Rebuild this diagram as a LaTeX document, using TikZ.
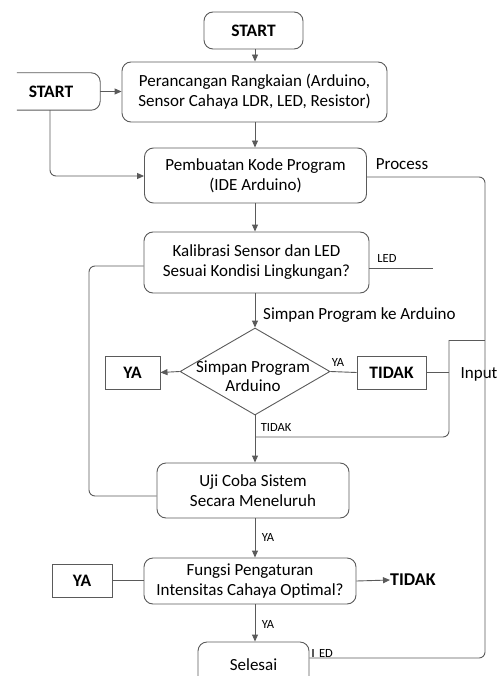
\documentclass[tikz,border=0pt]{standalone}
\usepackage{fontspec}
\setmainfont{Carlito}
\usetikzlibrary{arrows.meta,shapes.geometric,calc}
\definecolor{lc}{HTML}{5A5A5A}
\tikzset{
  line/.style={draw=lc, line width=0.9pt},
  arr/.style={line, -{Triangle[length=7pt,width=6pt]}},
  rbox/.style={line, rounded corners=9pt, align=center, inner sep=0pt, font=\fontsize{17}{20}\selectfont},
  sbox/.style={line, align=center, inner sep=0pt, font=\fontsize{17.5}{20}\selectfont\bfseries},
  lbl/.style={inner sep=0pt, font=\fontsize{17}{20}\selectfont},
  small/.style={inner sep=0pt, font=\fontsize{12.5}{14}\selectfont},
}
\begin{document}
\begin{tikzpicture}[x=1pt,y=-1pt]
\useasboundingbox (0,0) rectangle (502,676);
% nodes
\node[rbox, minimum width=99pt, minimum height=37pt, font=\fontsize{17.5}{20}\selectfont\bfseries] (st) at (253.5,30.5) {START};
\node[rbox, minimum width=265pt, minimum height=60pt] (b1) at (254.5,92) {Perancangan Rangkaian (Arduino,\\Sensor Cahaya LDR, LED, Resistor)};
\node[inner sep=0pt, minimum width=83pt, minimum height=37pt, font=\fontsize{17.5}{20}\selectfont\bfseries] (sl) at (58.5,91.5) {START\hspace*{15pt}};
\draw[line, rounded corners=9pt] (sl.north west) -- (sl.north east) -- (sl.south east) -- (sl.south west);
\node[rbox, minimum width=222pt, minimum height=55pt] (b2) at (255.5,175.5) {Pembuatan Kode Program\\(IDE Arduino)};
\node[rbox, minimum width=225pt, minimum height=61pt] (b3) at (256.5,262.5) {Kalibrasi Sensor dan LED\\Sesuai Kondisi Lingkungan?};
\node[line, diamond, minimum width=150pt, minimum height=87pt, inner sep=0pt] (dm) at (255,371.5) {};
\node[align=center, inner sep=0pt, font=\fontsize{17}{19}\selectfont] (dmt) at (253,376) {Simpan Program\\Arduino};
\node[sbox, minimum width=55pt, minimum height=33pt] (ya1) at (132.5,372.5) {YA};
\node[sbox, minimum width=69pt, minimum height=33pt] (td1) at (391.5,372.5) {TIDAK};
\node[rbox, minimum width=192pt, minimum height=55pt] (uji) at (253,490.5) {Uji Coba Sistem\\Secara Meneluruh};
\node[rbox, minimum width=212pt, minimum height=46pt] (fg) at (250,581) {Fungsi Pengaturan\\Intensitas Cahaya Optimal?};
\node[sbox, minimum width=60pt, minimum height=33pt] (ya2) at (82,580.5) {YA};
\node[inner sep=0pt, anchor=west, font=\fontsize{18}{20}\selectfont\bfseries] (td2) at (390,580) {TIDAK};
\node[rbox, minimum width=111pt, minimum height=46pt] (sel) at (253.5,665) {Selesai};
% labels
\node[lbl] (proc) at (402,164) {Process};
\node[lbl, fill=white, minimum height=32pt, inner xsep=2pt] (inp) at (479,374) {Input};
\node[lbl, anchor=west] (spk) at (263,315) {Simpan Program ke Arduino};
\node[small] (led) at (387,258) {LED};
\node[small] (yad) at (338,362) {YA};
\node[small] (tdd) at (276,427) {TIDAK};
\node[small] (yau) at (268,537) {YA};
\node[small] (yaf) at (268,624) {YA};
\node[small] (ed) at (326,653) {ED};
\draw[line, line width=1.2pt] (ed.west) ++(-6,-4) -- ++(0,8);
% coordinates
\coordinate (ax) at (255,0);
\coordinate (rc) at (485,177);
\coordinate (rb) at (485,658);
\coordinate (ll) at (89,496);
\coordinate (iv) at (449,340);
\coordinate (ib) at (449,437);
\coordinate (sv) at (50,176);
% connectors
\draw[arr] (st.south -| ax) -- (b1.north -| ax);
\draw[arr] (sl.east) -- (b1.west |- sl.east);
\draw[arr] (b1.south -| ax) -- (b2.north -| ax);
\draw[arr, rounded corners=6pt] (sl.south -| sv) -- (sv) -- (b2.west |- sv);
\draw[arr] (b2.south -| ax) -- (b3.north -| ax);
\draw[line, rounded corners=6pt] (b2.east |- rc) -- (rc) -- (rb) -- (sel.east |- rb);
\draw[line] (b3.east |- 0,268) -- (433,268);
\draw[line, rounded corners=6pt] (b3.west |- 0,266) -| (ll) -- (ll -| uji.west);
\draw[arr] (b3.south -| ax) -- (dm.north);
\draw[arr] (dm.west) -- (ya1.east);
\draw[line] (dm.east) -- (td1.west);
\draw[line] (td1.east) -- (td1.east -| iv);
\draw[line] (rc |- iv) -- (iv);
\draw[line, rounded corners=6pt] (iv) -- (ib) -- (ib -| ax);
\draw[arr] (dm.south) -- (uji.north -| ax);
\draw[arr] (uji.south -| ax) -- (fg.north -| ax);
\draw[line] (ya2.east) -- (fg.west |- ya2.east);
\draw[arr] (fg.east) -- (td2.west);
\draw[arr] (fg.south -| ax) -- (sel.north -| ax);
\end{tikzpicture}
\end{document}
